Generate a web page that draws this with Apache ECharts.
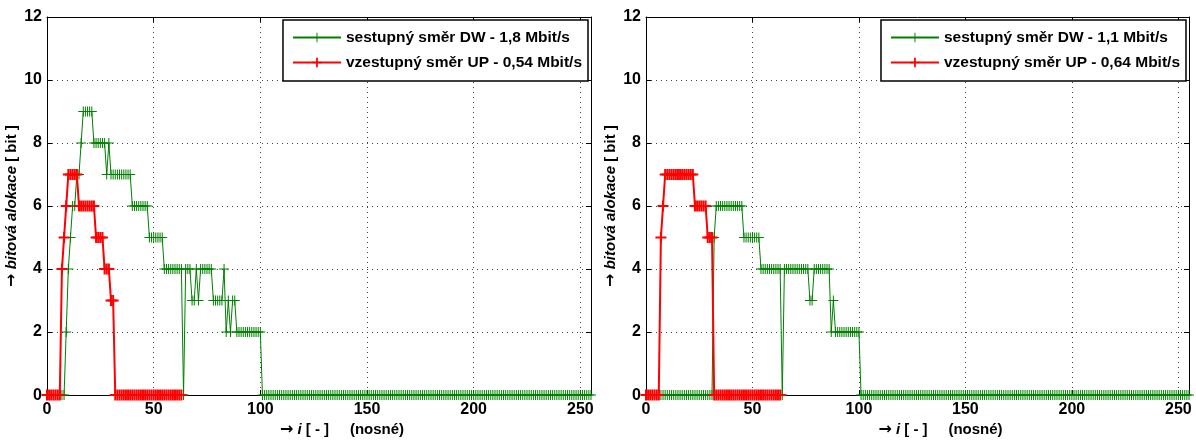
<!DOCTYPE html>
<html>
<head>
<meta charset="utf-8">
<script src="https://cdn.jsdelivr.net/npm/echarts@6/dist/echarts.min.js"></script>
<style>
  html, body { margin: 0; padding: 0; background: #fff; }
  #chart { width: 1196px; height: 443px; }
</style>
</head>
<body>
<div id="chart"></div>
<script>
// bitová alokace na nosných 0..255 (DW) a 0..63 (UP)
const dwLeft = [
  0,0,0,0,0,0,0,0,0,2,4,5,6,6,7,7,
  8,9,9,9,9,9,8,8,8,8,8,8,7,8,7,7,
  7,7,7,7,7,7,7,7,6,6,6,6,6,6,6,6,
  5,5,5,5,5,5,5,4,4,4,4,4,4,4,4,4,
  0,4,4,4,3,3,4,3,4,4,4,4,4,4,3,3,
  3,3,3,4,2,3,2,3,3,2,2,2,2,2,2,2,
  2,2,2,2,2,0,0,0,0,0,0,0,0,0,0,0,
  0,0,0,0,0,0,0,0,0,0,0,0,0,0,0,0,
  0,0,0,0,0,0,0,0,0,0,0,0,0,0,0,0,
  0,0,0,0,0,0,0,0,0,0,0,0,0,0,0,0,
  0,0,0,0,0,0,0,0,0,0,0,0,0,0,0,0,
  0,0,0,0,0,0,0,0,0,0,0,0,0,0,0,0,
  0,0,0,0,0,0,0,0,0,0,0,0,0,0,0,0,
  0,0,0,0,0,0,0,0,0,0,0,0,0,0,0,0,
  0,0,0,0,0,0,0,0,0,0,0,0,0,0,0,0,
  0,0,0,0,0,0,0,0,0,0,0,0,0,0,0,0
]
const upLeft = [
  0,0,0,0,0,0,0,4,5,6,7,7,7,7,7,6,
  6,6,6,6,6,6,6,5,5,5,5,4,4,4,3,3,
  0,0,0,0,0,0,0,0,0,0,0,0,0,0,0,0,
  0,0,0,0,0,0,0,0,0,0,0,0,0,0,0,0
]
const dwRight = [
  0,0,0,0,0,0,0,0,0,0,0,0,0,0,0,0,
  0,0,0,0,0,0,0,0,0,0,0,0,0,0,0,0,
  5,6,6,6,6,6,6,6,6,6,6,6,6,6,5,5,
  5,5,5,5,5,5,4,4,4,4,4,4,4,4,4,4,
  0,4,4,4,4,4,4,4,4,4,4,4,4,3,3,4,
  4,4,4,4,4,4,4,2,3,2,2,2,2,2,2,2,
  2,2,2,2,2,0,0,0,0,0,0,0,0,0,0,0,
  0,0,0,0,0,0,0,0,0,0,0,0,0,0,0,0,
  0,0,0,0,0,0,0,0,0,0,0,0,0,0,0,0,
  0,0,0,0,0,0,0,0,0,0,0,0,0,0,0,0,
  0,0,0,0,0,0,0,0,0,0,0,0,0,0,0,0,
  0,0,0,0,0,0,0,0,0,0,0,0,0,0,0,0,
  0,0,0,0,0,0,0,0,0,0,0,0,0,0,0,0,
  0,0,0,0,0,0,0,0,0,0,0,0,0,0,0,0,
  0,0,0,0,0,0,0,0,0,0,0,0,0,0,0,0,
  0,0,0,0,0,0,0,0,0,0,0,0,0,0,0,0
]
const upRight = [
  0,0,0,0,0,0,0,5,6,7,7,7,7,7,7,7,
  7,7,7,7,7,7,7,6,6,6,6,6,6,5,5,5,
  0,0,0,0,0,0,0,0,0,0,0,0,0,0,0,0,
  0,0,0,0,0,0,0,0,0,0,0,0,0,0,0,0
]
const namesLeft = ['sestupný směr DW - 1,8 Mbit/s', 'vzestupný směr UP - 0,54 Mbit/s']
const namesRight = ['sestupný směr DW - 1,1 Mbit/s', 'vzestupný směr UP - 0,64 Mbit/s']

const FONT = '"Liberation Sans", Arial, sans-serif'
const GREEN = '#008000'
const RED = '#ff0000'
const PLUS_THIN = 'path://M0,4.5h10v1h-10zM4.5,0h1v10h-1z'
const PLUS_THICK = 'path://M0,4.5h11v2h-11zM4.5,0h2v11h-2z'

const chart = echarts.init(document.getElementById('chart'))

const grids = [
  { left: 47, top: 17, width: 544, height: 387 },
  { left: 646, top: 17, width: 543, height: 387 }
]

const labelStyle = { color: '#000', fontSize: 16, fontWeight: 'bold', fontFamily: FONT }
const nameStyle = {
  color: '#000', fontSize: 15, fontWeight: 'bold', fontFamily: FONT,
  rich: {
    i: { color: '#000', fontSize: 15, fontWeight: 'bold', fontStyle: 'italic', fontFamily: FONT },
    a: { color: '#000', fontSize: 16, fontWeight: 'bold', fontFamily: '"DejaVu Sans", sans-serif' }
  }
}
const grid = { show: true, lineStyle: { color: '#444', width: 1, type: [1, 4] } }
const tick = { show: true, inside: true, length: 5, lineStyle: { color: '#000', width: 1 } }
const line = { show: true, onZero: false, lineStyle: { color: '#000', width: 1 } }

const xAxes = []
const yAxes = []
;[0, 1].forEach(g => {
  xAxes.push({
    gridIndex: g, type: 'value', min: 0, max: 255, interval: 50, position: 'bottom',
    axisLine: line, axisTick: tick, splitLine: grid,
    axisLabel: { ...labelStyle, margin: 6, showMaxLabel: false },
    name: '{a|→} {i|i} [ - ]     (nosné)', nameLocation: 'middle', nameGap: 25,
    nameTextStyle: { ...nameStyle, padding: [0, 0, 0, 46] }
  })
  yAxes.push({
    gridIndex: g, type: 'value', min: 0, max: 12, interval: 2, position: 'left',
    axisLine: line, axisTick: tick, splitLine: grid,
    axisLabel: { ...labelStyle, margin: 5 },
    name: '{a|→} {i|bitová alokace} [ bit ]', nameLocation: 'middle', nameGap: 21,
    nameTextStyle: nameStyle
  })
})
;[0, 1].forEach(g => {
  xAxes.push({
    gridIndex: g, type: 'value', min: 0, max: 255, interval: 50, position: 'top',
    axisLine: line, axisTick: tick, splitLine: { show: false }, axisLabel: { show: false }
  })
  yAxes.push({
    gridIndex: g, type: 'value', min: 0, max: 12, interval: 2, position: 'right',
    axisLine: line, axisTick: tick, splitLine: { show: false }, axisLabel: { show: false }
  })
})

const makeSeries = (name, values, g, color, thick) => ({
  name,
  type: 'line',
  xAxisIndex: g,
  yAxisIndex: g,
  data: values.map((v, i) => [i, v]),
  symbol: thick ? PLUS_THICK : PLUS_THIN,
  symbolSize: thick ? 11 : 10,
  lineStyle: { color, width: thick ? 2 : 1 },
  itemStyle: { color, borderWidth: 0 },
  clip: false,
  silent: true,
  emphasis: { disabled: true }
})

const legendBase = {
  orient: 'vertical',
  top: 20,
  itemWidth: 48,
  itemHeight: 12,
  itemGap: 8,
  padding: [9, 6, 10, 9],
  backgroundColor: '#fff',
  borderColor: '#000',
  borderWidth: 1.5,
  borderRadius: 0,
  selectedMode: false,
  textStyle: { color: '#000', fontSize: 15.5, fontWeight: 'bold', fontFamily: FONT, lineHeight: 17 }
}

chart.setOption({
  animation: false,
  backgroundColor: '#fff',
  grid: grids,
  xAxis: xAxes,
  yAxis: yAxes,
  legend: [
    { ...legendBase, right: 608, data: namesLeft },
    { ...legendBase, right: 10, data: namesRight }
  ],
  series: [
    makeSeries(namesLeft[0], dwLeft, 0, GREEN, false),
    makeSeries(namesLeft[1], upLeft, 0, RED, true),
    makeSeries(namesRight[0], dwRight, 1, GREEN, false),
    makeSeries(namesRight[1], upRight, 1, RED, true)
  ]
})
</script>
</body>
</html>
